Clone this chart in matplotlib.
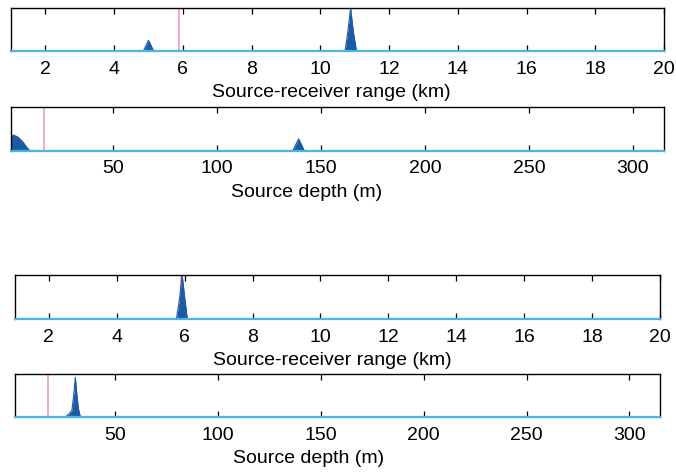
import matplotlib
matplotlib.use("Agg")
import matplotlib.pyplot as plt
import numpy as np

plt.rcParams['font.family'] = ['Liberation Sans', 'DejaVu Sans']

# ---- data ----
range_ticks = [2, 4, 6, 8, 10, 12, 14, 16, 18, 20]
depth_ticks = [50, 100, 150, 200, 250, 300]

# panel 1: ambiguity vs range
p1_x = [1.0, 4.85, 5.0, 5.15, 10.72, 10.8, 10.88, 10.96, 11.05, 20.0]
p1_y = [0.0, 0.0, 0.25, 0.0, 0.0, 0.45, 1.0, 0.45, 0.0, 0.0]
p1_true = 5.9

# panel 2: ambiguity vs depth
p2_x = [1.0, 2.5, 4.0, 5.5, 7.0, 8.5, 10.0, 136.5, 139.3, 142.0, 315.0]
p2_y = [0.36, 0.35, 0.32, 0.26, 0.18, 0.08, 0.0, 0.0, 0.27, 0.0, 0.0]
p2_true = 17.0

# panel 3: ambiguity vs range
p3_x = [1.0, 5.76, 5.85, 5.93, 6.01, 6.08, 20.0]
p3_y = [0.0, 0.0, 0.45, 1.0, 0.45, 0.0, 0.0]
p3_true = 5.9

# panel 4: ambiguity vs depth
p4_x = [1.0, 25.5, 27.5, 28.8, 29.7, 30.5, 31.3, 32.0, 33.0, 315.0]
p4_y = [0.0, 0.0, 0.08, 0.15, 0.5, 0.92, 0.5, 0.2, 0.0, 0.0]
p4_true = 17.0

range_label = "Source-receiver range (km)"
depth_label = "Source depth (m)"

FILL = "#1d5aa3"
BASE = "#4cb5e6"
TRUE = "#ee9cc0"

fig = plt.figure(figsize=(6.76, 4.72), dpi=100)

def panel(rect, x, y, true, xlim, ticks, label, label_x):
    ax = fig.add_axes(rect)
    ax.axvline(true, color=TRUE, lw=1.2, zorder=1)
    ax.fill_between(x, 0, y, color=FILL, lw=0, zorder=2)
    ax.plot(x, y, color=FILL, lw=0.8, zorder=2)
    ax.plot(xlim, [0, 0], color=BASE, lw=1.6, zorder=3, clip_on=False)
    ax.set_xlim(*xlim)
    ax.set_ylim(0, 1)
    ax.set_yticks([])
    ax.set_xticks(ticks)
    ax.tick_params(axis='x', direction='in', top=True, bottom=True,
                   length=4, width=0.9, labelsize=14, pad=7)
    for s in ['top', 'left', 'right']:
        ax.spines[s].set_linewidth(1.0)
        ax.spines[s].set_color('black')
    ax.spines['bottom'].set_visible(False)
    ax.set_xlabel(label, fontsize=14, labelpad=4.5)
    ax.xaxis.label.set_x(label_x)
    return ax

panel([0.0163, 0.892, 0.966, 0.091], p1_x, p1_y, p1_true, (1, 20), range_ticks, range_label, 0.490)
panel([0.0163, 0.681, 0.966, 0.092], p2_x, p2_y, p2_true, (1, 315), depth_ticks, depth_label, 0.453)
panel([0.0217, 0.324, 0.955, 0.093], p3_x, p3_y, p3_true, (1, 20), range_ticks, range_label, 0.492)
panel([0.0217, 0.116, 0.955, 0.092], p4_x, p4_y, p4_true, (1, 315), depth_ticks, depth_label, 0.455)

fig.savefig("out.png", dpi=100)
